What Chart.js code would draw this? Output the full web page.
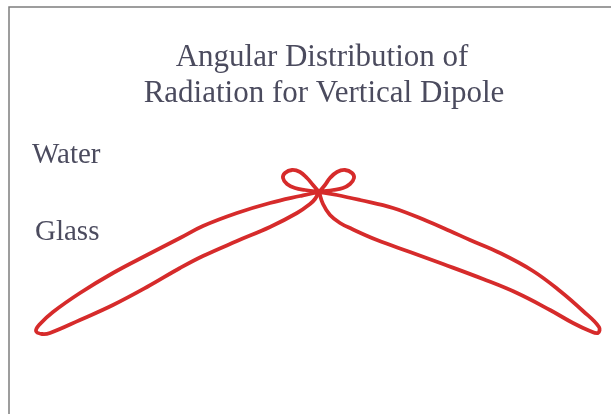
<!DOCTYPE html>
<html lang="en">
<head>
    <meta charset="UTF-8">
    <title>Angular Distribution of Radiation for Vertical Dipole</title>
    <script src="https://cdn.jsdelivr.net/npm/chart.js"></script>
    <style>
        body { margin: 0; background: #fff; }
        canvas { display: block; }
    </style>
</head>
<body>
    <canvas id="myChart" width="611" height="414"></canvas>

    <script>
        // radiation pattern outline, relative units, dipole at the origin
        // glass lobes (below), from the origin out along the lower edge, round the tip, back along the upper edge
        const glassRightX = [0, 0.04, 0.11, 0.21, 0.33, 0.58, 0.91, 1.24, 1.64, 1.98, 2.31, 2.54, 2.71, 2.79, 2.80,
            2.64, 2.41, 2.14, 1.81, 1.51, 1.31, 1.08, 0.74, 0.41, 0.18, 0];
        const glassRightY = [0, -0.12, -0.23, -0.31, -0.37, -0.48, -0.60, -0.72, -0.87, -1.01, -1.18, -1.31, -1.39, -1.41, -1.35,
            -1.19, -0.99, -0.79, -0.61, -0.48, -0.39, -0.29, -0.16, -0.08, -0.03, 0];
        const glassLeftX = [0, -0.04, -0.09, -0.22, -0.49, -0.82, -1.16, -1.39, -1.72, -2.06, -2.39, -2.69, -2.77, -2.83,
            -2.79, -2.66, -2.39, -2.06, -1.72, -1.39, -1.16, -0.82, -0.49, -0.19, 0];
        const glassLeftY = [0, -0.07, -0.12, -0.21, -0.35, -0.49, -0.64, -0.76, -0.95, -1.13, -1.28, -1.41, -1.42, -1.39,
            -1.32, -1.20, -1.01, -0.81, -0.63, -0.46, -0.34, -0.21, -0.11, -0.04, 0];
        // water loops (above), out along the bottom and back along the top
        const waterLeftX = [-0.14, -0.24, -0.32, -0.36, -0.34, -0.27, -0.19, -0.12, -0.06, 0];
        const waterLeftY = [0.02, 0.04, 0.08, 0.14, 0.19, 0.22, 0.20, 0.14, 0.07, 0];
        const waterRightX = [0.14, 0.24, 0.31, 0.35, 0.33, 0.26, 0.18, 0.11, 0.06, 0];
        const waterRightY = [0.02, 0.04, 0.08, 0.14, 0.19, 0.22, 0.20, 0.14, 0.07, 0];

        const titleLines = ['Angular Distribution of', 'Radiation for Vertical Dipole'];
        const mediumLabels = ['Water', 'Glass'];

        function toPoints(xs, ys) {
            return xs.map((x, i) => ({ x: x, y: ys[i] }));
        }

        // each path passes straight through the origin: glass upper edge -> water loop -> opposite glass lower edge
        const pathA = toPoints(glassRightX, glassRightY).concat(toPoints(waterLeftX, waterLeftY));
        const pathB = toPoints(glassLeftX, glassLeftY).concat(toPoints(waterRightX, waterRightY));

        const textColor = '#4b4b5e';
        const serif = '"Liberation Serif", "DejaVu Serif", serif';
        const red = '#d62b2b';

        const decorations = {
            id: 'decorations',
            afterDraw(chart) {
                const ctx = chart.ctx;
                ctx.save();
                // frame on left and top
                ctx.strokeStyle = '#7d7d7d';
                ctx.lineWidth = 1.5;
                ctx.beginPath();
                ctx.moveTo(9, chart.height);
                ctx.lineTo(9, 7);
                ctx.lineTo(chart.width, 7);
                ctx.stroke();

                ctx.fillStyle = textColor;
                ctx.textAlign = 'center';
                ctx.textBaseline = 'alphabetic';
                ctx.font = '31px ' + serif;
                ctx.fillText(titleLines[0], 322, 66);
                ctx.fillText(titleLines[1], 324, 102);

                ctx.textAlign = 'left';
                ctx.font = '29px ' + serif;
                ctx.fillText(mediumLabels[0], 32, 163);
                ctx.fillText(mediumLabels[1], 35, 240);
                ctx.restore();
            }
        };

        const lineStyle = {
            showLine: true,
            borderColor: red,
            borderWidth: 3.8,
            pointRadius: 0,
            tension: 0.4,
            fill: false
        };

        const ctx = document.getElementById('myChart').getContext('2d');
        const chart = new Chart(ctx, {
            type: 'scatter',
            data: {
                datasets: [
                    Object.assign({ data: pathA }, lineStyle),
                    Object.assign({ data: pathB }, lineStyle)
                ]
            },
            options: {
                responsive: false,
                animation: false,
                layout: { padding: 0 },
                plugins: {
                    legend: { display: false },
                    tooltip: { enabled: false }
                },
                scales: {
                    x: { type: 'linear', min: -3.19, max: 2.92, display: false },
                    y: { type: 'linear', min: -2.22, max: 1.92, display: false }
                }
            },
            plugins: [decorations]
        });
    </script>
</body>
</html>
